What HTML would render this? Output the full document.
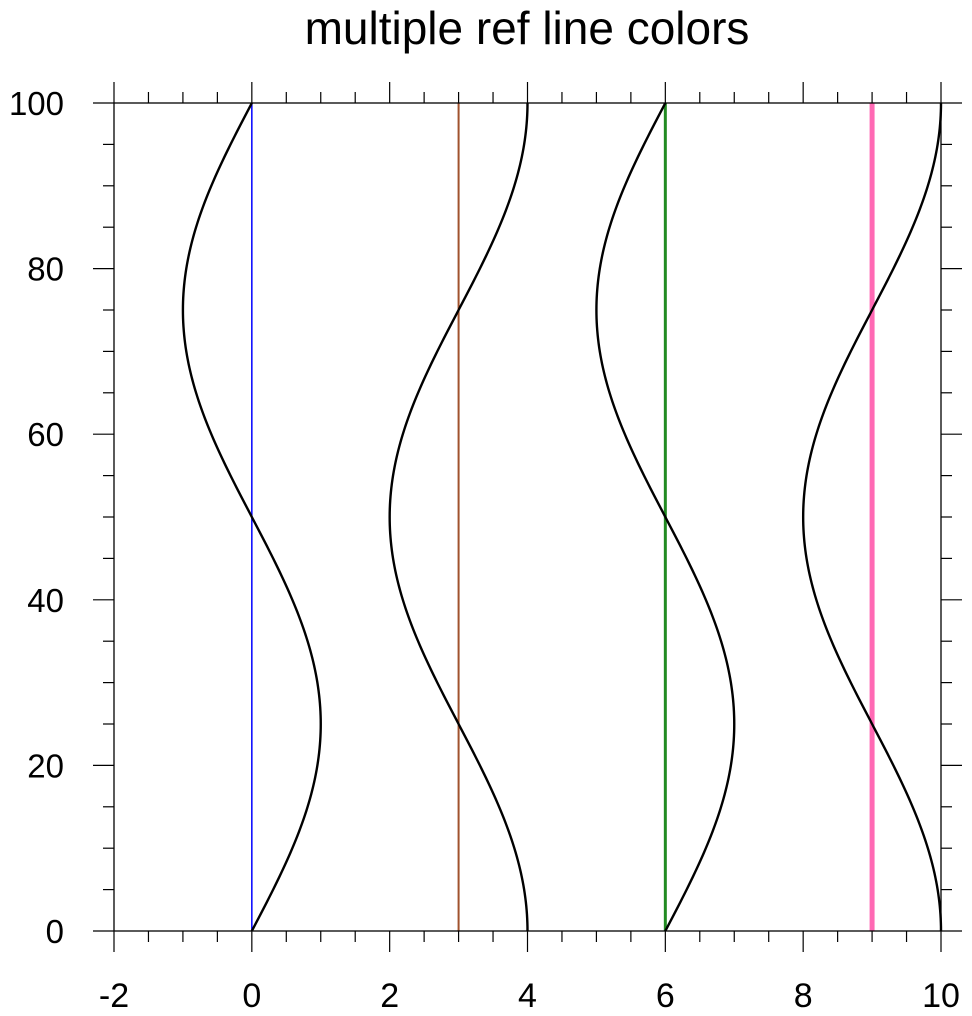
<!DOCTYPE html>
<html><head><style>
html,body{margin:0;padding:0;background:#fff;}
svg{display:block;}
text{font-family:"Liberation Sans",Arial,sans-serif;fill:#000;}
</style></head><body>
<svg id="s" width="972" height="1016" xmlns="http://www.w3.org/2000/svg">
<text x="527" y="44" font-size="46" text-anchor="middle">multiple ref line colors</text>
<g id="g"></g>
</svg>
<script>
var L=114,R=941,T=103,B=931;
function X(v){return L+(v+2)*(R-L)/12;}
function Y(v){return B-v*(B-T)/100;}
var h='';
h+='<line x1="'+X(0)+'" y1="'+T+'" x2="'+X(0)+'" y2="'+B+'" stroke="#0000ff" stroke-width="1.5"/>';
h+='<line x1="'+X(3)+'" y1="'+T+'" x2="'+X(3)+'" y2="'+B+'" stroke="#a0522d" stroke-width="2"/>';
h+='<line x1="'+X(6)+'" y1="'+T+'" x2="'+X(6)+'" y2="'+B+'" stroke="#228b22" stroke-width="3"/>';
h+='<line x1="'+X(9)+'" y1="'+T+'" x2="'+X(9)+'" y2="'+B+'" stroke="#ff69b4" stroke-width="5"/>';
var defs=[[0,Math.sin],[3,Math.cos],[6,Math.sin],[9,Math.cos]];
defs.forEach(function(d){
 var p='';
 for(var i=0;i<=200;i++){var y=i/2;var x=d[0]+d[1](2*Math.PI*y/100);
  p+=(i?'L':'M')+X(x).toFixed(2)+' '+Y(y).toFixed(2);}
 h+='<path d="'+p+'" fill="none" stroke="#000" stroke-width="2.4"/>';
});
h+='<rect x="'+L+'" y="'+T+'" width="'+(R-L)+'" height="'+(B-T)+'" fill="none" stroke="#000" stroke-width="1.3"/>';
for(var k=0;k<=24;k++){var v=-2+k*0.5;var x=X(v);var len=(k%4==0)?21:11;
 h+='<line x1="'+x+'" y1="'+B+'" x2="'+x+'" y2="'+(B+len)+'" stroke="#000" stroke-width="1.2"/>';
 h+='<line x1="'+x+'" y1="'+T+'" x2="'+x+'" y2="'+(T-len)+'" stroke="#000" stroke-width="1.2"/>';
 if(k%4==0)h+='<text x="'+x+'" y="1007" font-size="34" text-anchor="middle">'+v+'</text>';}
for(var k=0;k<=20;k++){var v=k*5;var y=Y(v);var len=(k%4==0)?21:11;
 h+='<line x1="'+L+'" y1="'+y+'" x2="'+(L-len)+'" y2="'+y+'" stroke="#000" stroke-width="1.2"/>';
 h+='<line x1="'+R+'" y1="'+y+'" x2="'+(R+len)+'" y2="'+y+'" stroke="#000" stroke-width="1.2"/>';
 if(k%4==0)h+='<text x="64" y="'+(y+12)+'" font-size="33" text-anchor="end">'+v+'</text>';}
document.getElementById('g').innerHTML=h;
</script>
</body></html>
